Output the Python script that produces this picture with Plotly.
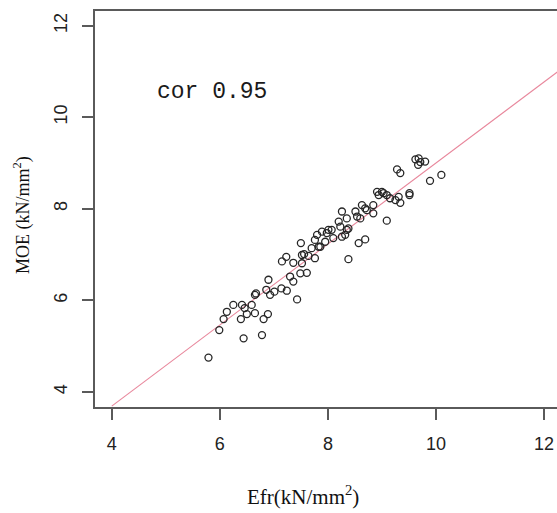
import plotly.graph_objects as go

# Flexural modulus (Efr) vs. modulus of elasticity (MOE), kN/mm^2
efr = [5.79, 5.99, 6.44, 6.78, 6.07, 6.13, 6.25, 6.41, 6.46, 6.59,
       6.39, 6.50, 6.65, 6.81, 6.89, 6.67, 6.90, 6.86, 6.93, 7.01,
       7.14, 7.24, 7.30, 7.36, 7.43, 7.49, 7.61, 7.15, 7.23, 7.36,
       7.50, 7.52, 7.56, 7.64, 7.70, 7.76, 7.80, 7.86, 7.95, 7.98,
       7.83, 7.89, 8.07, 8.10, 8.20, 8.23, 8.26, 8.32, 8.35, 8.35,
       8.38, 8.54, 8.60, 8.57, 8.69, 8.63, 8.72, 8.84, 8.84, 8.91,
       8.94, 9.03, 9.09, 9.15, 9.09, 9.31, 9.34, 9.28, 9.34, 9.51,
       9.51, 9.62, 9.68, 9.67, 9.71, 9.80, 9.89, 10.10, 7.76, 8.01,
       8.38, 7.52, 8.26, 8.51, 6.65, 8.69, 9.25, 9.00]
moe = [4.75, 5.35, 5.17, 5.24, 5.59, 5.75, 5.90, 5.90, 5.83, 5.90,
       5.59, 5.70, 5.72, 5.59, 5.70, 6.15, 6.45, 6.23, 6.12, 6.19,
       6.26, 6.21, 6.52, 6.41, 6.02, 6.59, 6.60, 6.85, 6.95, 6.82,
       7.25, 6.99, 7.01, 6.97, 7.14, 6.92, 7.43, 7.17, 7.28, 7.47,
       7.17, 7.50, 7.54, 7.36, 7.72, 7.61, 7.94, 7.43, 7.54, 7.79,
       6.90, 7.83, 7.79, 7.25, 7.33, 8.08, 7.97, 7.90, 8.08, 8.37,
       8.30, 8.34, 8.30, 8.23, 7.74, 8.26, 8.13, 8.86, 8.78, 8.34,
       8.30, 9.08, 9.10, 8.96, 9.02, 9.03, 8.61, 8.74, 7.32, 7.54,
       7.57, 6.81, 7.39, 7.94, 6.12, 8.01, 8.19, 8.37]

# fitted line MOE = a + b * Efr
fit_intercept = 0.15
fit_slope = 0.885
fit_x = [4.0, 12.5]
fit_y = [fit_intercept + fit_slope * v for v in fit_x]

cor_label = "cor 0.95"
tick_vals = [4, 6, 8, 10, 12]
tick_text = ["4", "6", "8", "10", "12"]

fig = go.Figure()
fig.add_trace(go.Scatter(
    x=fit_x, y=fit_y, mode="lines",
    line=dict(color="#e8879c", width=1.1),
    hoverinfo="skip",
))
fig.add_trace(go.Scatter(
    x=efr, y=moe, mode="markers",
    marker=dict(symbol="circle-open", size=7, color="#262626",
                line=dict(width=1.3, color="#262626")),
))

axis_common = dict(
    showgrid=False, zeroline=False,
    showline=True, linecolor="#5a5a5a", linewidth=1.5,
    ticks="outside", ticklen=11, tickwidth=1.5, tickcolor="#5a5a5a",
    tickvals=tick_vals, ticktext=tick_text,
    tickfont=dict(family="Liberation Sans, Arial, sans-serif", size=18, color="#222"),
)

fig.update_layout(
    width=557, height=513,
    margin=dict(l=95, r=0, t=11, b=106),
    paper_bgcolor="white", plot_bgcolor="white",
    showlegend=False,
    xaxis=dict(range=[3.69, 12.24], mirror=True, ticklabelstandoff=9, **axis_common),
    yaxis=dict(range=[3.67, 12.32], tickangle=-90, ticklabelstandoff=8, **axis_common),
    annotations=[
        dict(text=cor_label, x=4.8, y=10.55, xref="x", yref="y",
             xanchor="left", yanchor="middle", showarrow=False,
             font=dict(family="Liberation Mono, monospace", size=23, color="#1a1a1a")),
        dict(text="Efr(kN/mm<sup>2</sup>)", x=0.45, y=0, xref="paper", yref="paper",
             xanchor="center", yanchor="middle", yshift=-88, showarrow=False,
             font=dict(family="Liberation Serif, serif", size=21, color="#111")),
        dict(text="MOE (kN/mm<sup>2</sup>)", x=0, y=0.485, xref="paper", yref="paper",
             xanchor="center", yanchor="middle", xshift=-73, textangle=-90,
             showarrow=False,
             font=dict(family="Liberation Serif, serif", size=18, color="#111")),
    ],
)

fig.write_html("out.html")
